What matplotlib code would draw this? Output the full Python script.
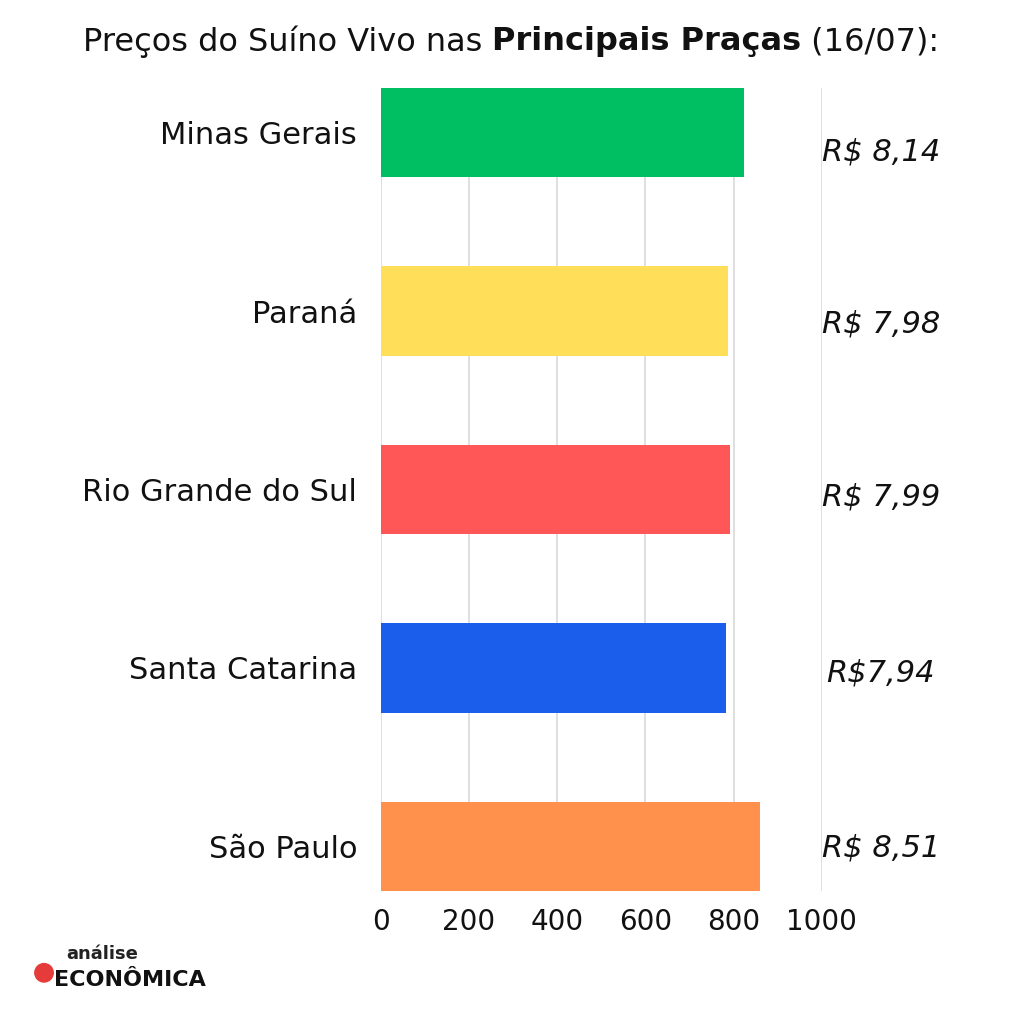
import matplotlib.pyplot as plt
from matplotlib.patches import Circle

# data
states = ['Minas Gerais', 'Paraná', 'Rio Grande do Sul', 'Santa Catarina', 'São Paulo']
bar_values = [824, 787, 791, 783, 860]
prices = ['R$ 8,14', 'R$ 7,98', 'R$ 7,99', 'R$7,94', 'R$ 8,51']
colors = ['#00BF63', '#FFDE59', '#FF5757', '#1B5EEB', '#FF914D']
xticks = [0, 200, 400, 600, 800, 1000]

plt.rcParams['font.family'] = ['DejaVu Sans']

fig = plt.figure(figsize=(10.24, 10.24), dpi=100)
ax = fig.add_axes([0.3718, 0.1299, 0.4307, 0.7842])

ypos = list(range(len(states)))
ax.barh(ypos, bar_values, height=0.5, color=colors, zorder=2)

ax.set_xlim(0, 1000)
ax.set_ylim(4.25, -0.25)
ax.set_xticks(xticks)
ax.set_xticklabels([str(t) for t in xticks], fontsize=20, color='#111111')
ax.set_yticks(ypos)
ax.set_yticklabels(states, fontsize=22, color='#111111')
ax.tick_params(axis='x', length=0, pad=12)
ax.tick_params(axis='y', length=0, pad=17)
ax.grid(axis='x', color='#d9d9d9', lw=1.2, zorder=0)
for s in ax.spines.values():
    s.set_visible(False)

# price labels to the right of the plot
price_dy = [0.11, 0.07, 0.04, 0.03, 0.01]
for i, p in enumerate(prices):
    ax.text(1134, i + price_dy[i], p, ha='center', va='center', fontsize=22,
            style='italic', color='#111111', clip_on=False)

# title with a bold middle part
fig.canvas.draw()
r = fig.canvas.get_renderer()
parts = [('Preços do Suíno Vivo nas ', 'normal'), ('Principais Praças', 'bold'), (' (16/07):', 'normal')]
texts = []
for txt, w in parts:
    texts.append(fig.text(0, 0.959, txt, fontsize=23, fontweight=w, va='center', color='#111111'))
widths = [t.get_window_extent(r).width for t in texts]
x = 511 - sum(widths) / 2
for t, w in zip(texts, widths):
    t.set_x(x / 1024)
    x += w

# logo
fig.text(0.065, 0.063, 'análise', fontsize=13, fontweight='bold', color='#222222')
fig.text(0.053, 0.037, 'ECONÔMICA', fontsize=16, fontweight='heavy', color='#111111')
fig.patches.append(Circle((0.043, 0.050), 0.009, transform=fig.transFigure, color='#E63B3B'))

fig.savefig('out.png', dpi=100, facecolor='white')
